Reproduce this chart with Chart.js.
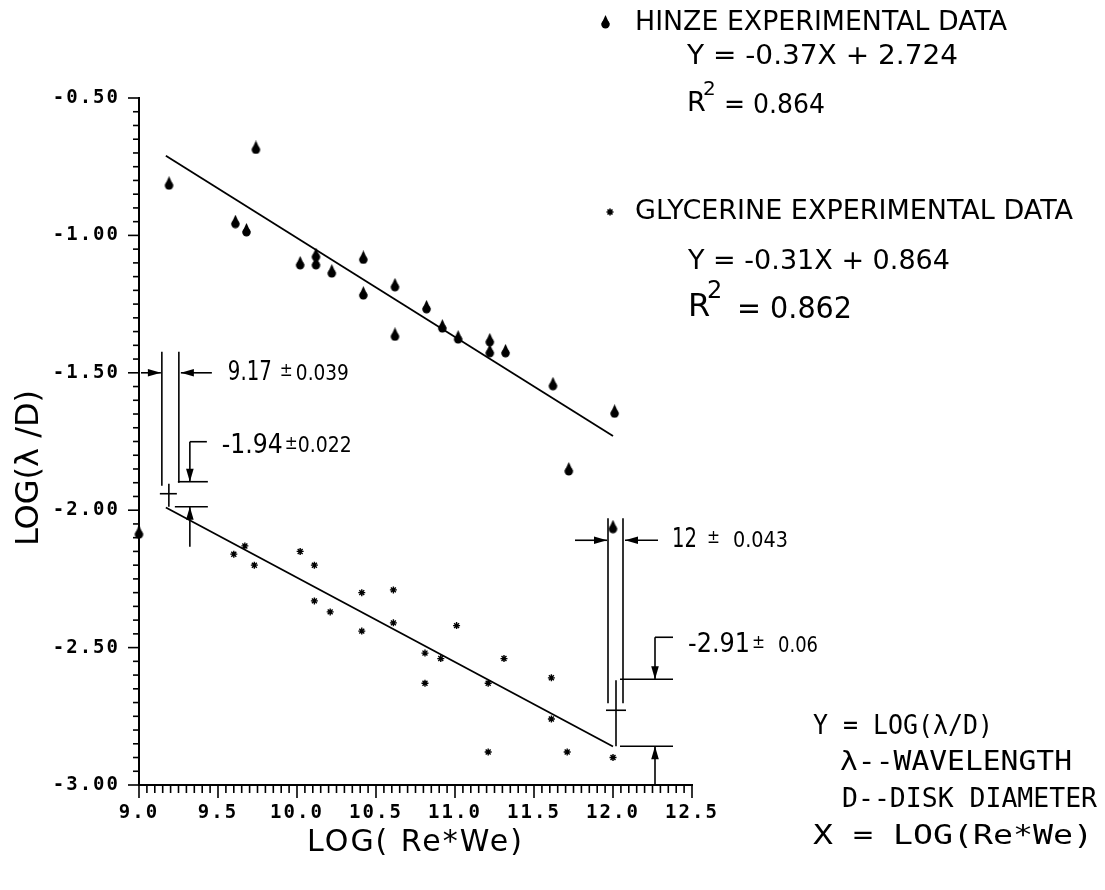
<!DOCTYPE html>
<html>
<head>
<meta charset="utf-8">
<script src="https://cdn.jsdelivr.net/npm/chart.js@4.4.1/dist/chart.umd.min.js"></script>
<style>
  html, body { margin: 0; padding: 0; background: #fff; }
  #wrap { width: 1105px; height: 890px; position: relative; }
</style>
</head>
<body>
<div id="wrap"><canvas id="chart"></canvas></div>
<script>
// Hinze experimental data, LOG(Re*We) vs LOG(lambda/D)
const hinzeX = [9.0, 9.19, 9.74, 9.61, 9.68, 10.02, 10.12, 10.12, 10.22, 10.42, 10.42, 10.62, 10.62, 10.82, 10.92, 11.02, 11.22, 11.22, 11.32, 11.62, 11.72, 12.01, 12.0];
const hinzeY = [-2.08, -0.81, -0.68, -0.95, -0.98, -1.10, -1.07, -1.10, -1.13, -1.08, -1.21, -1.18, -1.36, -1.26, -1.33, -1.37, -1.38, -1.42, -1.42, -1.54, -1.85, -1.64, -2.06];

// glycerine experimental data
const glyX = [9.60, 9.67, 9.73, 10.02, 10.11, 10.11, 10.21, 10.41, 10.41, 10.61, 10.61, 10.81, 10.81, 10.91, 11.01, 11.21, 11.21, 11.31, 11.61, 11.61, 11.71, 12.0];
const glyY = [-2.16, -2.13, -2.20, -2.15, -2.20, -2.33, -2.37, -2.30, -2.44, -2.29, -2.41, -2.52, -2.63, -2.54, -2.42, -2.63, -2.88, -2.54, -2.61, -2.76, -2.88, -2.90];

// fitted lines (end points)
const hinzeFitX = [9.17, 12.0];
const hinzeFitY = [-0.71, -1.73];
const glyFitX = [9.17, 12.0];
const glyFitY = [-1.99, -2.86];

// axes
const xTickValues = [9.0, 9.5, 10.0, 10.5, 11.0, 11.5, 12.0, 12.5];
const xTickLabels = ['9.0', '9.5', '10.0', '10.5', '11.0', '11.5', '12.0', '12.5'];
const yTickValues = [-3.0, -2.5, -2.0, -1.5, -1.0, -0.5];
const yTickLabels = ['-3.00', '-2.50', '-2.00', '-1.50', '-1.00', '-0.50'];

const toPoints = (xs, ys) => xs.map((v, i) => ({x: v, y: ys[i]}));

function makeTree() {
    const c = document.createElement('canvas');
    c.width = 11;
    c.height = 14;
    const g = c.getContext('2d');
    g.fillStyle = '#000';
    g.beginPath();
    g.moveTo(5.5, 0);
    g.lineTo(1.4, 9);
    g.lineTo(9.6, 9);
    g.closePath();
    g.fill();
    g.beginPath();
    g.arc(5.5, 9.4, 4.2, 0, Math.PI * 2);
    g.fill();
    return c;
}
const tree = makeTree();

function line(ctx, x1, y1, x2, y2) {
    ctx.beginPath();
    ctx.moveTo(x1, y1);
    ctx.lineTo(x2, y2);
    ctx.stroke();
}

function arrow(ctx, x1, y1, x2, y2) {
    line(ctx, x1, y1, x2, y2);
    const a = Math.atan2(y2 - y1, x2 - x1);
    ctx.save();
    ctx.translate(x2, y2);
    ctx.rotate(a);
    ctx.beginPath();
    ctx.moveTo(0, 0);
    ctx.lineTo(-13, -3.8);
    ctx.lineTo(-13, 3.8);
    ctx.closePath();
    ctx.fill();
    ctx.restore();
}

// draw text, squeezed or stretched to a given width
function text(ctx, str, x, y, size, width, family) {
    ctx.save();
    ctx.font = size + 'px ' + (family || '"DejaVu Sans"');
    ctx.textBaseline = 'middle';
    ctx.textAlign = 'left';
    const w = ctx.measureText(str).width;
    ctx.translate(x, y);
    if (width) ctx.scale(width / w, 1);
    ctx.fillText(str, 0, 0);
    ctx.restore();
}

function plusMinus(ctx, x, y, big, bigW, pmX, small, smallX, smallW) {
    text(ctx, big, x, y, 27, bigW);
    text(ctx, '±', pmX, y - 2, 20, 13);
    text(ctx, small, smallX, y + 1, 22, smallW);
}

const decor = {
    id: 'decor',
    beforeDraw(chart) {
        // spaced out tick labels, like the plotter font
        chart.ctx.letterSpacing = '2px';
    },
    afterDatasetsDraw(chart) {
        const {ctx, scales: {x, y}} = chart;
        const left = x.left, bottom = y.bottom;
        ctx.letterSpacing = '0px';
        ctx.save();
        ctx.strokeStyle = '#000';
        ctx.fillStyle = '#000';
        ctx.lineWidth = 1.6;

        // tick marks, every 0.05
        for (let i = 0; i <= 70; i++) {
            const px = x.getPixelForValue(9 + i * 0.05);
            line(ctx, px, bottom, px, bottom + (i % 10 === 0 ? 13 : 8));
        }
        for (let i = 0; i <= 50; i++) {
            const py = y.getPixelForValue(-3 + i * 0.05);
            line(ctx, left, py, left - (i % 10 === 0 ? 11 : 6), py);
        }

        // y axis title
        ctx.save();
        ctx.translate(30, 468);
        ctx.rotate(-Math.PI / 2);
        ctx.font = '32px "DejaVu Sans"';
        ctx.textAlign = 'center';
        ctx.textBaseline = 'middle';
        ctx.fillText('LOG(λ /D)', 0, 0);
        ctx.restore();

        // dimensions at the left end of the fits
        const ax = x.getPixelForValue(9.17), ay = y.getPixelForValue(-1.94);
        const y15 = y.getPixelForValue(-1.5);
        line(ctx, ax - 4, y15 - 21, ax - 4, ay - 8);
        line(ctx, ax + 13, y15 - 21, ax + 13, ay - 11);
        arrow(ctx, left + 2, y15, ax - 5, y15);
        arrow(ctx, ax + 46, y15, ax + 15, y15);
        plusMinus(ctx, ax + 62, y15, '9.17', 44, ax + 114, '0.039', ax + 130, 53);

        line(ctx, ax - 6, ay, ax + 11, ay);
        line(ctx, ax + 3, ay - 10, ax + 3, ay + 13);
        line(ctx, ax + 12, ay - 12, ax + 42, ay - 12);
        line(ctx, ax + 9, ay + 13, ax + 42, ay + 13);
        line(ctx, ax + 24, ay - 52, ax + 41, ay - 52);
        arrow(ctx, ax + 24, ay - 52, ax + 24, ay - 12);
        arrow(ctx, ax + 24, ay + 53, ax + 24, ay + 13);
        plusMinus(ctx, ax + 56, ay - 48, '-1.94', 61, ax + 119, '0.022', ax + 132, 54);

        // dimensions at the right end of the fits
        const bx = x.getPixelForValue(12.0), by = y.getPixelForValue(-2.91);
        line(ctx, bx - 5, by - 242, bx - 5, by - 57);
        line(ctx, bx + 10, by - 242, bx + 10, by - 57);
        arrow(ctx, bx - 38, by - 220, bx - 6, by - 220);
        arrow(ctx, bx + 45, by - 220, bx + 12, by - 220);
        plusMinus(ctx, bx + 59, by - 220, '12', 25, bx + 94, '0.043', bx + 120, 55);

        line(ctx, bx - 7, by - 50, bx + 13, by - 50);
        line(ctx, bx + 3, by - 80, bx + 3, by - 14);
        line(ctx, bx + 7, by - 81, bx + 60, by - 81);
        line(ctx, bx + 7, by - 14, bx + 60, by - 14);
        line(ctx, bx + 42, by - 123, bx + 60, by - 123);
        arrow(ctx, bx + 42, by - 123, bx + 42, by - 81);
        arrow(ctx, bx + 42, bottom, bx + 42, by - 14);
        plusMinus(ctx, bx + 75, by - 115, '-2.91', 62, bx + 139, '0.06', bx + 165, 40);

        // legend block
        ctx.drawImage(tree, 600, 15);
        text(ctx, 'HINZE EXPERIMENTAL DATA', 635, 23, 27, 372);
        text(ctx, 'Y = -0.37X + 2.724', 687, 57, 27, 271);
        text(ctx, 'R', 687, 104, 27);
        text(ctx, '2', 703, 90, 20);
        text(ctx, '= 0.864', 724, 106, 27, 101);

        Chart.helpers.drawPoint(ctx, {pointStyle: 'star', radius: 3.5, borderWidth: 1.4}, 610, 212);
        text(ctx, 'GLYCERINE EXPERIMENTAL DATA', 635, 212, 27, 438);
        text(ctx, 'Y = -0.31X + 0.864', 688, 262, 27, 262);
        text(ctx, 'R', 688, 308, 32);
        text(ctx, '2', 707, 292, 24);
        text(ctx, '= 0.862', 737, 310, 30, 115);

        // key to the symbols
        const mono = '"DejaVu Sans Mono"';
        text(ctx, 'Y = LOG(λ/D)', 813, 727, 26, 180, mono);
        text(ctx, 'λ--WAVELENGTH', 840, 763, 26, 232, mono);
        text(ctx, 'D--DISK DIAMETER', 842, 800, 26, 255, mono);
        text(ctx, 'X = LOG(Re*We)', 813, 837, 26, 280, mono);
        ctx.restore();
    }
};

const tickFont = {family: '"DejaVu Sans Mono"', size: 19, weight: 'bold'};

new Chart(document.getElementById('chart'), {
    type: 'scatter',
    data: {
        datasets: [{
            label: 'HINZE EXPERIMENTAL DATA',
            data: toPoints(hinzeX, hinzeY),
            pointStyle: tree,
            clip: false
        }, {
            label: 'GLYCERINE EXPERIMENTAL DATA',
            data: toPoints(glyX, glyY),
            pointStyle: 'star',
            pointRadius: 3.5,
            borderColor: '#000',
            borderWidth: 1.4,
            clip: false
        }, {
            label: 'Hinze fit',
            data: toPoints(hinzeFitX, hinzeFitY),
            showLine: true,
            pointRadius: 0,
            borderColor: '#000',
            borderWidth: 1.8
        }, {
            label: 'Glycerine fit',
            data: toPoints(glyFitX, glyFitY),
            showLine: true,
            pointRadius: 0,
            borderColor: '#000',
            borderWidth: 1.8
        }]
    },
    options: {
        responsive: true,
        maintainAspectRatio: false,
        animation: false,
        events: [],
        layout: {padding: {left: 0, top: 98, right: 413, bottom: 24}},
        plugins: {legend: {display: false}, tooltip: {enabled: false}},
        scales: {
            x: {
                type: 'linear',
                min: 9.0,
                max: 12.5,
                afterBuildTicks: s => { s.ticks = xTickValues.map(v => ({value: v})); },
                afterFit: s => { s.height = 81; },
                grid: {display: false},
                border: {display: true, color: '#000', width: 2},
                ticks: {
                    color: '#000',
                    font: tickFont,
                    padding: 9,
                    maxRotation: 0,
                    callback: (v, i) => xTickLabels[i]
                },
                title: {
                    display: true,
                    text: 'LOG( Re*We)',
                    color: '#000',
                    font: {family: '"DejaVu Sans"', size: 30},
                    padding: {top: 0, bottom: 5}
                }
            },
            y: {
                type: 'linear',
                min: -3.0,
                max: -0.5,
                afterBuildTicks: s => { s.ticks = yTickValues.map(v => ({value: v})); },
                afterFit: s => { s.width = 139; },
                grid: {display: false},
                border: {display: true, color: '#000', width: 2},
                ticks: {
                    color: '#000',
                    font: tickFont,
                    padding: 11,
                    callback: (v, i) => yTickLabels[i]
                }
            }
        }
    },
    plugins: [decor]
});
</script>
</body>
</html>
